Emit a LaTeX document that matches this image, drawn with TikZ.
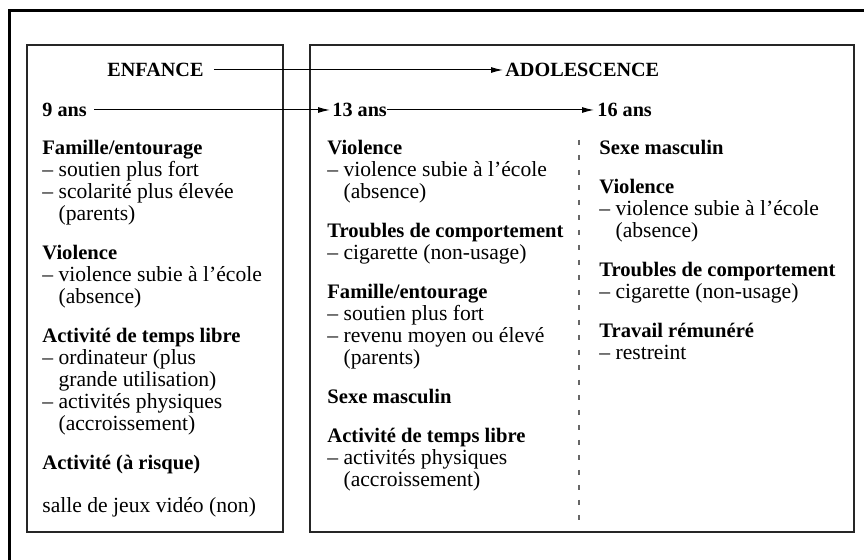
\documentclass[tikz,border=0pt]{standalone}
\usepackage{fontspec}
\setmainfont{Liberation Serif}
\usetikzlibrary{arrows.meta}

\newcommand\tiret{–\ }
\newcommand\suite{\hphantom{–\ }}
\newcommand\titre[1]{{\fontsize{10.3}{11}\selectfont\bfseries #1}}

\tikzset{
  cadre/.style={draw=black!85, line width=0.6pt},
  periode/.style={font=\fontsize{10.1}{11}\selectfont\bfseries, inner sep=0pt, anchor=west},
  colonne/.style={font=\fontsize{10.8}{11}\selectfont, inner sep=0pt, anchor=north west, align=left},
  fleche/.style={-{Latex[length=6pt,width=3pt]}, line width=0.5pt},
}

\begin{document}
\begin{tikzpicture}[x=0.5pt,y=-0.5pt]
  \useasboundingbox (0,0) rectangle (864,560);

  % cadres
  \draw [line width=1.5pt] (9,575) -- (9,11) -- (875,11);
  \draw [cadre] (27,45) rectangle (283,532);
  \draw [cadre] (310,45) rectangle (854,532);
  \draw [black!60, line width=0.6pt, dash pattern=on 2.5pt off 5pt] (579,140) -- (579,520);

  % periodes et ages
  \node [periode] (enf)    at (107,70) {ENFANCE};
  \node [periode] (ado)    at (505,70) {ADOLESCENCE};
  \node [periode] (neuf)   at (42,110) {9 ans};
  \node [periode] (treize) at (332,110) {13 ans};
  \node [periode] (seize)  at (597,110) {16 ans};

  \draw [fleche, shorten <=5pt, shorten >=1pt] (enf) -- (ado);
  \draw [fleche, shorten <=3.5pt, shorten >=1pt] (neuf) -- (treize);
  \draw [fleche, shorten <=0pt, shorten >=1.5pt] (treize) -- (seize);

  % colonnes
  \node [colonne] (colneuf) at (42,140) {%
    \titre{Famille/entourage}\\
    \tiret soutien plus fort\\
    \tiret scolarité plus élevée\\
    \suite (parents)\\[8.5pt]
    \titre{Violence}\\
    \tiret violence subie à l’école\\
    \suite (absence)\\[8.5pt]
    \titre{Activité de temps libre}\\
    \tiret ordinateur (plus\\
    \suite grande utilisation)\\
    \tiret activités physiques\\
    \suite (accroissement)\\[8.5pt]
    \titre{Activité (à risque)}\\[10.5pt]
    salle de jeux vidéo (non)};

  \node [colonne] (coltreize) at (327,140) {%
    \titre{Violence}\\
    \tiret violence subie à l’école\\
    \suite (absence)\\[8.5pt]
    \titre{Troubles de comportement}\\
    \tiret cigarette (non-usage)\\[8.5pt]
    \titre{Famille/entourage}\\
    \tiret soutien plus fort\\
    \tiret revenu moyen ou élevé\\
    \suite (parents)\\[8.5pt]
    \titre{Sexe masculin}\\[8.5pt]
    \titre{Activité de temps libre}\\
    \tiret activités physiques\\
    \suite (accroissement)};

  \node [colonne] (colseize) at (599,140) {%
    \titre{Sexe masculin}\\[8.5pt]
    \titre{Violence}\\
    \tiret violence subie à l’école\\
    \suite (absence)\\[8.5pt]
    \titre{Troubles de comportement}\\
    \tiret cigarette (non-usage)\\[8.5pt]
    \titre{Travail rémunéré}\\
    \tiret restreint};
\end{tikzpicture}
\end{document}
